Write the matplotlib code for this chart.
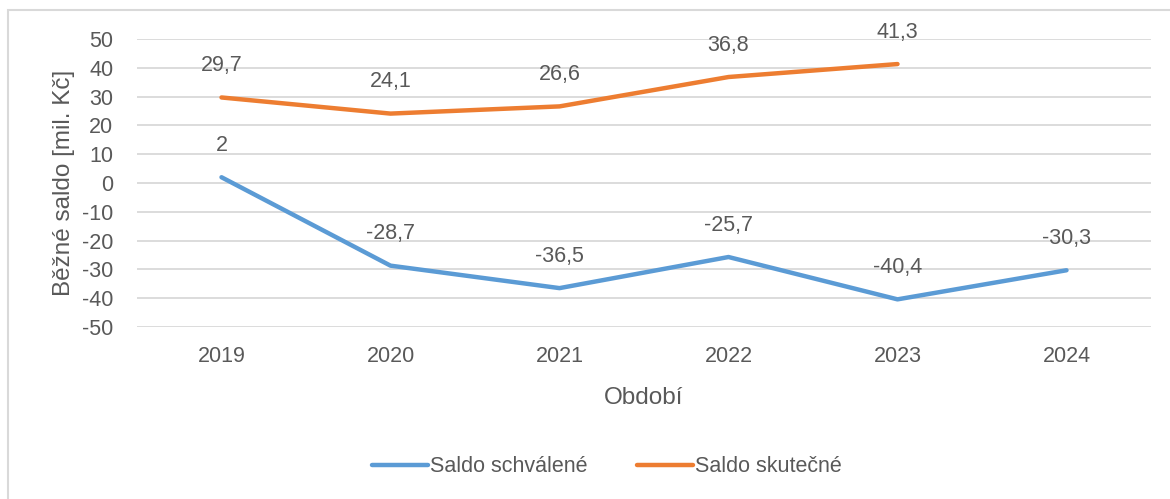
import matplotlib.pyplot as plt
from matplotlib.patches import Rectangle

years = ["2019", "2020", "2021", "2022", "2023", "2024"]
schvalene = [2, -28.7, -36.5, -25.7, -40.4, -30.3]
skutecne = [29.7, 24.1, 26.6, 36.8, 41.3]
yticks = list(range(-50, 51, 10))

plt.rcParams['font.family'] = ['Liberation Sans', 'DejaVu Sans']
txt = '#595959'
blue = '#5B9BD5'
orange = '#ED7D31'

fig = plt.figure(figsize=(11.7, 4.99), dpi=100)
# chart border (open to right/bottom like the cropped original)
fig.patches.append(Rectangle((8 / 1170, -0.1), 1.2, 1 - 10 / 499 + 0.1, transform=fig.transFigure,
                             fill=False, edgecolor='#D9D9D9', linewidth=1.5))

ax = fig.add_axes([137 / 1170, 1 - 327 / 499, (1151 - 137) / 1170, (327 - 39) / 499])

x1 = list(range(len(schvalene)))
x2 = list(range(len(skutecne)))
ax.plot(x1, schvalene, color=blue, lw=3.2, solid_capstyle='round', label='Saldo schválené')
ax.plot(x2, skutecne, color=orange, lw=3.2, solid_capstyle='round', label='Saldo skutečné')

def fmt(v):
    s = ('%g' % v).replace('.', ',')
    return s

for xs, vals in ((x1, schvalene), (x2, skutecne)):
    for xi, v in zip(xs, vals):
        ax.annotate(fmt(v), (xi, v), xytext=(0, 23), textcoords='offset points',
                    ha='center', va='center', fontsize=15.5, color=txt)

ax.set_xlim(-0.5, len(years) - 0.5)
ax.set_ylim(-50, 50)
ax.set_yticks(yticks)
ax.set_yticklabels([str(t) for t in yticks])
ax.set_xticks(range(len(years)))
ax.set_xticklabels(years)
ax.tick_params(axis='both', length=0, labelsize=15.5, labelcolor=txt)
ax.tick_params(axis='y', pad=17)
ax.tick_params(axis='x', pad=14)
ax.grid(axis='y', color='#D9D9D9', lw=1.3)
ax.set_axisbelow(True)
for s in ax.spines.values():
    s.set_visible(False)

ax.set_xlabel('Období', fontsize=17.5, color=txt, labelpad=14)
ax.set_ylabel('Běžné saldo [mil. Kč]', fontsize=17.5, color=txt, labelpad=5)

fig.legend(loc='center', bbox_to_anchor=(607 / 1170, 1 - 467 / 499), ncol=2, frameon=False,
           fontsize=15.5, labelcolor=txt, handlelength=2.6, handletextpad=0.1, columnspacing=2.3)

fig.savefig('out.png', dpi=100)
